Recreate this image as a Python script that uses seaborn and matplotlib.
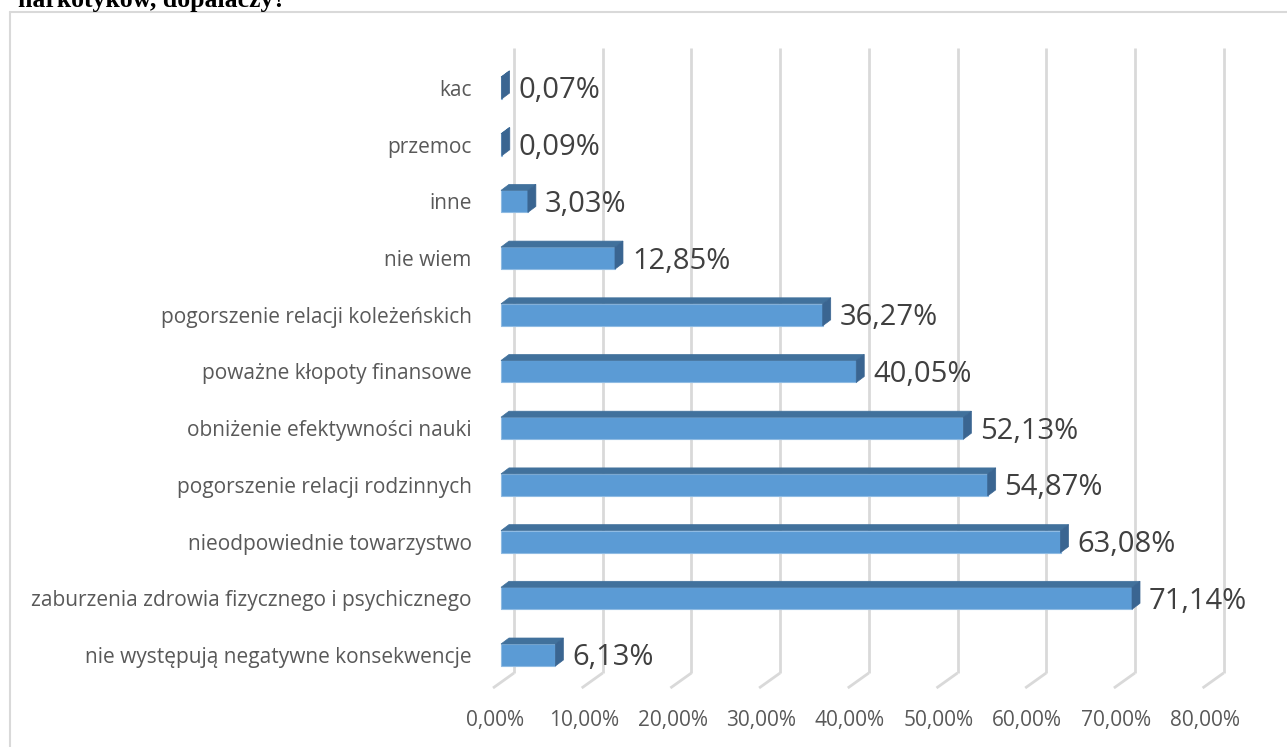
import matplotlib
matplotlib.use("Agg")
import matplotlib.pyplot as plt
import seaborn as sns
import pandas as pd
from matplotlib.patches import Polygon
from matplotlib.lines import Line2D

categories = [
    "kac",
    "przemoc",
    "inne",
    "nie wiem",
    "pogorszenie relacji koleżeńskich",
    "poważne kłopoty finansowe",
    "obniżenie efektywności nauki",
    "pogorszenie relacji rodzinnych",
    "nieodpowiednie towarzystwo",
    "zaburzenia zdrowia fizycznego i psychicznego",
    "nie występują negatywne konsekwencje",
]
values = [0.07, 0.09, 3.03, 12.85, 36.27, 40.05, 52.13, 54.87, 63.08, 71.14, 6.13]
value_labels = ["0,07%", "0,09%", "3,03%", "12,85%", "36,27%", "40,05%",
                "52,13%", "54,87%", "63,08%", "71,14%", "6,13%"]
x_ticks = [0, 10, 20, 30, 40, 50, 60, 70, 80]
x_tick_labels = ["0,00%", "10,00%", "20,00%", "30,00%", "40,00%",
                 "50,00%", "60,00%", "70,00%", "80,00%"]
title = "narkotyków, dopalaczy?"

sns.set_theme(style="white")
plt.rcParams["font.family"] = ["Open Sans", "DejaVu Sans"]

W, H = 1287, 747
fig = plt.figure(figsize=(W / 100, H / 100), dpi=100)

# axes in pixel layout
ax_l, ax_r, ax_t, ax_b = 480, 1260, 30, 700
ax = fig.add_axes([ax_l / W, 1 - ax_b / H, (ax_r - ax_l) / W, (ax_b - ax_t) / H])

px_per_v = 8.87
px_per_i = 56.7
x0_px, y0_px = 501, 88

df = pd.DataFrame({"cat": categories, "val": values})
bar_h = 22 / px_per_i
front = "#5b9bd5"
dark = "#41719c"
side = "#3a6591"

sns.barplot(data=df, y="cat", x="val", orient="h", width=bar_h,
            color=front, saturation=1, ax=ax, zorder=3,
            edgecolor="#8fbbe3", linewidth=0.8)

ax.set_xlim((ax_l - x0_px) / px_per_v, (ax_r - x0_px) / px_per_v)
ax.set_ylim((ax_b - y0_px) / px_per_i, (ax_t - y0_px) / px_per_i)

DX = 8 / px_per_v
DY = -6 / px_per_i
GX = 13 / px_per_v

# gridlines (back wall + floor diagonals)
g_top = (48 - y0_px) / px_per_i
g_bot = (673 - y0_px) / px_per_i
g_floor = (688 - y0_px) / px_per_i
for t in x_ticks:
    ax.plot([t + GX, t + GX], [g_top, g_bot], color="#d9d9d9", lw=2.0,
            zorder=1, solid_capstyle="butt")
    ax.plot([t + GX, t + GX - 21 / px_per_v], [g_bot, g_floor],
            color="#d9d9d9", lw=2.0, zorder=1, solid_capstyle="butt")

# 3D faces
for i, v in enumerate(values):
    top = i - bar_h / 2
    bot = i + bar_h / 2
    ax.add_patch(Polygon([(0, top), (v, top), (v + DX, top + DY), (DX, top + DY)],
                         closed=True, facecolor=dark, edgecolor=dark, lw=0.5, zorder=4))
    ax.add_patch(Polygon([(v, top), (v, bot), (v + DX, bot + DY), (v + DX, top + DY)],
                         closed=True, facecolor=side, edgecolor=side, lw=0.5, zorder=4))
    ax.text(v + 1.9, i + 3 / px_per_i, value_labels[i], fontsize=21, color="#404040",
            va="center", ha="left", zorder=5)

# x tick labels
lab_y = (721 - y0_px) / px_per_i
for t, lab in zip(x_ticks, x_tick_labels):
    ax.text(t - 0.66, lab_y, lab, fontsize=15, color="#595959",
            ha="center", va="center", clip_on=False)

ax.set_xticks([])
ax.set_xlabel("")
ax.set_ylabel("")
ax.tick_params(axis="y", length=0, pad=6, labelsize=15, labelcolor="#595959")
for s in ax.spines.values():
    s.set_visible(False)
ax.patch.set_alpha(0)

# outer chart border (left + top only visible)
fig.add_artist(Line2D([9.5 / W, 9.5 / W], [0, 1 - 12 / H], color="#d9d9d9", lw=1.5))
fig.add_artist(Line2D([9.5 / W, 1], [1 - 12 / H, 1 - 12 / H], color="#d9d9d9", lw=1.5))

fig.text(18 / W, 1 - 7 / H, title, fontsize=18.5, fontweight="bold",
         family=["Liberation Serif", "DejaVu Serif"], color="black",
         ha="left", va="baseline")

fig.savefig("out.png", dpi=100)
